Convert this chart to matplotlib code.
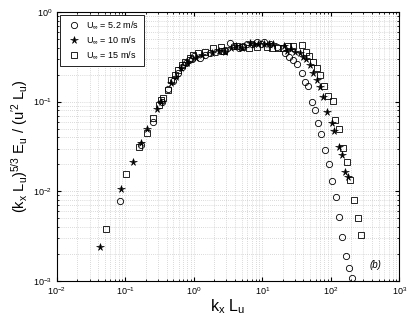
import matplotlib
matplotlib.use("Agg")
import matplotlib.pyplot as plt
from matplotlib.ticker import LogLocator, NullFormatter

plt.rcParams['font.family'] = ['Liberation Sans', 'DejaVu Sans']
plt.rcParams['mathtext.fontset'] = 'custom'
plt.rcParams['mathtext.rm'] = 'Liberation Sans'
plt.rcParams['mathtext.it'] = 'Liberation Sans'
plt.rcParams['mathtext.bf'] = 'Liberation Sans:bold'

# U = 5.2 m/s (circles)
k_52 = [0.084, 0.168, 0.25, 0.34, 0.42, 0.50, 0.59, 0.67, 0.76, 0.84, 0.93, 1.01,
        1.23, 1.45, 1.75, 2.1, 2.5, 2.9, 3.4, 3.9, 4.5, 5.2, 6.0, 7.0, 8.3, 9.6,
        10.6, 13.0, 16.6, 21.5, 24.9, 28.0, 32.0, 37.6, 42.0, 47.0, 53.0, 58.7,
        65.5, 71.6, 83.7, 93.5, 106, 118, 132, 147, 165, 184, 206]
E_52 = [0.0078, 0.033, 0.060, 0.098, 0.14, 0.17, 0.21, 0.245, 0.27, 0.29, 0.30, 0.32,
        0.31, 0.33, 0.35, 0.36, 0.37, 0.38, 0.455, 0.42, 0.40, 0.42, 0.44, 0.44, 0.46, 0.44,
        0.467, 0.44, 0.41, 0.347, 0.318, 0.292, 0.265, 0.209, 0.166, 0.149, 0.099, 0.080,
        0.058, 0.044, 0.029, 0.0204, 0.013, 0.0087, 0.0052, 0.0031, 0.0019, 0.0014, 0.00107]

# U = 10 m/s (stars)
k_10 = [0.0426, 0.0853, 0.128, 0.169, 0.21, 0.29, 0.33, 0.46, 0.55, 0.65, 0.80, 1.08,
        1.3, 1.83, 2.36, 2.9, 3.5, 4.2, 5.0, 6.64, 7.5, 8.8, 10.5, 12.5, 14.5, 20.8,
        23.0, 26.0, 30.0, 35.7, 38.9, 43.0, 50.0, 54.7, 62.5, 70.0, 78.0, 89.5, 104,
        113, 130, 145, 162, 181]
E_10 = [0.00238, 0.0107, 0.0211, 0.0344, 0.049, 0.082, 0.10, 0.163, 0.19, 0.235, 0.27, 0.305,
        0.33, 0.347, 0.367, 0.36, 0.40, 0.42, 0.40, 0.455, 0.44, 0.44, 0.44, 0.44, 0.44, 0.42,
        0.37, 0.39, 0.36, 0.347, 0.318, 0.30, 0.256, 0.207, 0.175, 0.147, 0.112, 0.077, 0.0574,
        0.0475, 0.031, 0.0255, 0.0163, 0.0146]

# U = 15 m/s (squares)
k_15 = [0.0526, 0.103, 0.158, 0.209, 0.25, 0.31, 0.33, 0.351, 0.424, 0.46, 0.53, 0.594,
        0.665, 0.743, 0.88, 0.98, 1.16, 1.46, 1.93, 2.47, 2.8, 4.24, 5.0, 6.5, 8.5, 11.6,
        14.0, 17.0, 20.0, 24.0, 28.0, 37.8, 43.6, 48.9, 54.7, 62.0, 70.0, 80.0, 92.5,
        107, 117, 134, 150, 172, 192, 222, 249, 278]
E_15 = [0.00378, 0.0157, 0.0315, 0.0444, 0.066, 0.091, 0.104, 0.111, 0.135, 0.175, 0.199, 0.226,
        0.256, 0.279, 0.31, 0.33, 0.35, 0.36, 0.394, 0.404, 0.37, 0.418, 0.41, 0.40, 0.41, 0.41,
        0.40, 0.40, 0.40, 0.42, 0.42, 0.43, 0.361, 0.323, 0.279, 0.24, 0.199, 0.15, 0.116,
        0.102, 0.0625, 0.049, 0.0302, 0.0214, 0.0134, 0.0079, 0.005, 0.00327]

labels = [r'U$_{\infty}$ = 5.2 m/s', r'U$_{\infty}$ = 10 m/s', r'U$_{\infty}$ = 15 m/s']

fig = plt.figure(figsize=(4.09, 3.16), dpi=100)
ax = fig.add_axes([0.139, 0.111, 0.837, 0.851])

ax.loglog(k_52, E_52, 'o', mfc='none', mec='black', ms=4.5, mew=0.6, label=labels[0])
ax.loglog(k_10, E_10, '*', color='black', ms=5.5, mew=0.4, label=labels[1])
ax.loglog(k_15, E_15, 's', mfc='none', mec='black', ms=4.2, mew=0.6, label=labels[2])

ax.set_xlim(1e-2, 1e3)
ax.set_ylim(1e-3, 1e0)
ax.xaxis.set_minor_locator(LogLocator(base=10, subs=range(2, 10), numticks=20))
ax.yaxis.set_minor_locator(LogLocator(base=10, subs=range(2, 10), numticks=20))
ax.xaxis.set_minor_formatter(NullFormatter())
ax.yaxis.set_minor_formatter(NullFormatter())

ax.grid(True, which='both', linestyle=(0, (1, 2)), color='#b8b8b8', linewidth=0.5)
ax.tick_params(which='both', direction='in', top=True, right=True, labelsize=6.5)
ax.tick_params(which='major', length=3)
ax.tick_params(which='minor', length=1.5)
for s in ax.spines.values():
    s.set_linewidth(0.8)

ax.set_xlabel(r'k$_{\rm x}$ L$_{\rm u}$', fontsize=11.5, labelpad=0)
ax.set_ylabel(r'(k$_{\rm x}$ L$_{\rm u}$)$^{5/3}$ E$_{\rm u}$ / (u$^{\prime 2}$ L$_{\rm u}$)',
              fontsize=10.5, labelpad=2)

leg = ax.legend(loc='upper left', fontsize=6.5, frameon=True, fancybox=False,
                edgecolor='black', framealpha=1, borderpad=0.5, handletextpad=0.4,
                borderaxespad=0.35, labelspacing=0.35)
leg.get_frame().set_linewidth(0.6)

ax.text(0.93, 0.04, '(b)', transform=ax.transAxes, fontsize=7, style='italic',
        ha='center', va='bottom')

fig.savefig('out.png', dpi=100)
